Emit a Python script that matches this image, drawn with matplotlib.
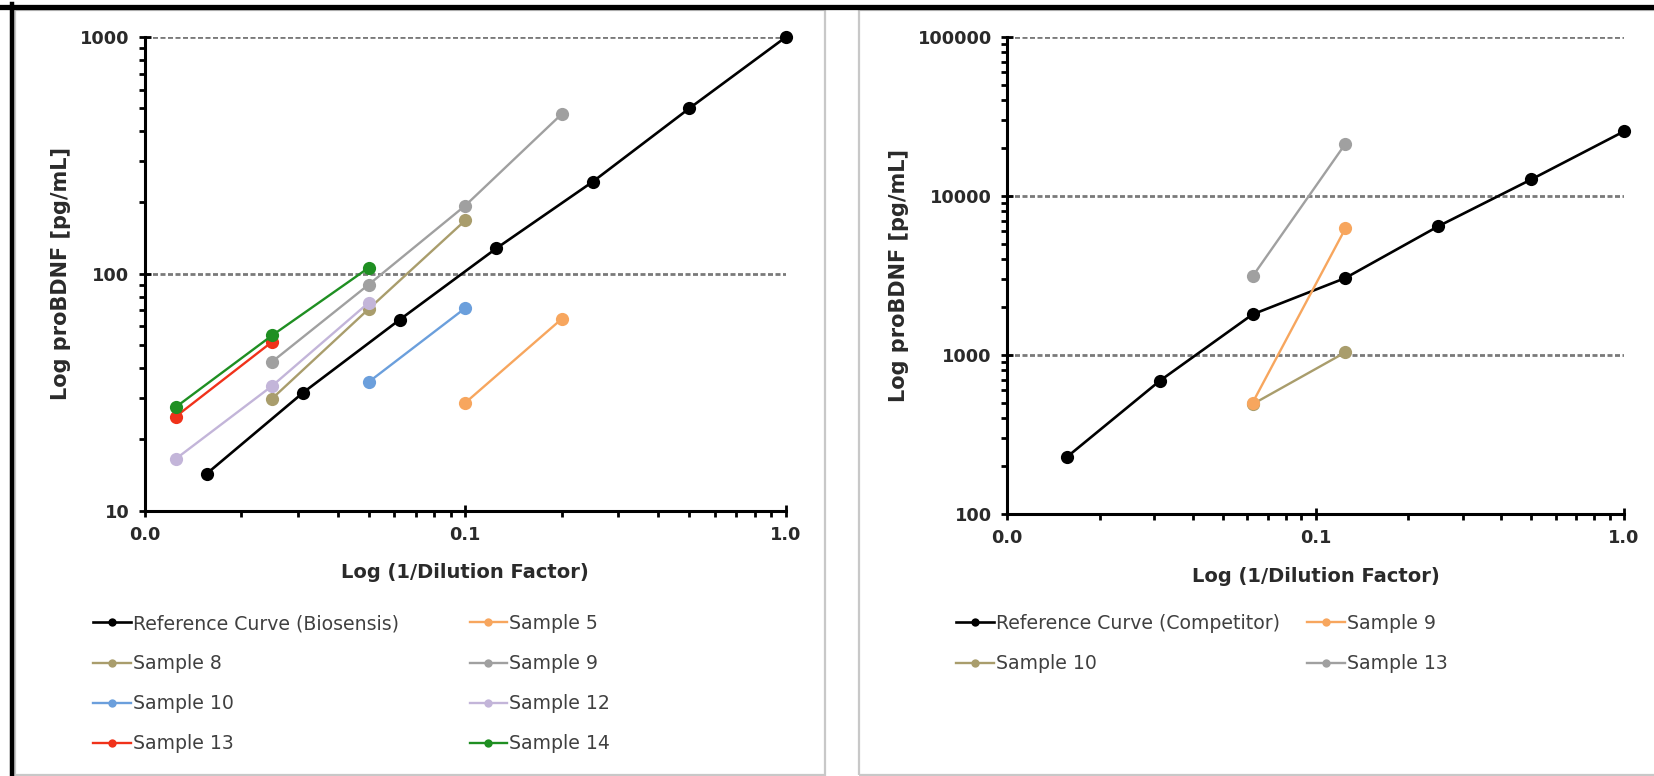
import matplotlib
matplotlib.use("Agg")
import matplotlib.pyplot as plt
from matplotlib.patches import Rectangle
from matplotlib.lines import Line2D
from matplotlib.ticker import FixedLocator, FixedFormatter, LogLocator, NullFormatter

W, H = 1654, 776

# ---- data: left panel (Biosensis) ----
ref_bio_x = [1/64, 1/32, 1/16, 1/8, 1/4, 1/2, 1]
ref_bio_y = [14.3, 31.5, 64, 128, 245, 500, 1000]

s5_x, s5_y = [0.1, 0.2], [28.5, 64.5]
s8_x, s8_y = [0.025, 0.05, 0.1], [29.7, 71, 168]
s9_x, s9_y = [0.025, 0.05, 0.1, 0.2], [42.5, 90, 194, 473]
s10_x, s10_y = [0.05, 0.1], [34.9, 71.6]
s12_x, s12_y = [0.0125, 0.025, 0.05], [16.5, 33.6, 75.5]
s13_x, s13_y = [0.0125, 0.025], [24.9, 51.6]
s14_x, s14_y = [0.0125, 0.025, 0.05], [27.3, 54.9, 106]

# ---- data: right panel (Competitor) ----
ref_comp_x = [1/64, 1/32, 1/16, 1/8, 1/4, 1/2, 1]
ref_comp_y = [228, 687, 1800, 3050, 6450, 12700, 25500]

c9_x, c9_y = [1/16, 1/8], [500, 6250]
c10_x, c10_y = [1/16, 1/8], [490, 1040]
c13_x, c13_y = [1/16, 1/8], [3120, 21300]

x_ticks = [0.01, 0.1, 1.0]
x_labels = ["0.0", "0.1", "1.0"]

C_ORANGE = "#F7A65E"
C_KHAKI = "#A99D6C"
C_GREY = "#A0A0A0"
C_BLUE = "#6B9FDC"
C_LILAC = "#C3B5D9"
C_RED = "#F0321A"
C_GREEN = "#1F8F22"

FONT = "DejaVu Sans"
TXT = "#2a2a2a"
LEG_TXT = "#404040"


def px_rect(x0, y0, x1, y1):
    return [x0 / W, 1 - y1 / H, (x1 - x0) / W, (y1 - y0) / H]


def style_axes(ax, y_ticks, y_labels, grid_vals):
    ax.set_xscale("log")
    ax.set_yscale("log")
    for s in ["top", "right"]:
        ax.spines[s].set_visible(False)
    for s in ["left", "bottom"]:
        ax.spines[s].set_linewidth(2.2)
        ax.spines[s].set_color("black")
    ax.xaxis.set_major_locator(FixedLocator(x_ticks))
    ax.xaxis.set_major_formatter(FixedFormatter(x_labels))
    ax.xaxis.set_minor_locator(LogLocator(base=10, subs=range(2, 10)))
    ax.xaxis.set_minor_formatter(NullFormatter())
    ax.yaxis.set_major_locator(FixedLocator(y_ticks))
    ax.yaxis.set_major_formatter(FixedFormatter(y_labels))
    ax.yaxis.set_minor_locator(LogLocator(base=10, subs=range(2, 10)))
    ax.yaxis.set_minor_formatter(NullFormatter())
    ax.tick_params(which="major", direction="inout", length=8, width=2, pad=7,
                   labelsize=12.8, labelcolor=TXT)
    ax.tick_params(which="minor", direction="out", length=4, width=2)
    for lab in ax.get_xticklabels() + ax.get_yticklabels():
        lab.set_fontweight("bold")
        lab.set_family(FONT)
    for g in grid_vals:
        ax.axhline(g, color="#7a7a7a", lw=2.0, ls=(0, (1.8, 0.9)), zorder=1)
    ax.set_xlabel("Log (1/Dilution Factor)", fontsize=14, fontweight="bold",
                  family=FONT, color=TXT, labelpad=14)
    ax.set_ylabel("Log proBDNF [pg/mL]", fontsize=15, fontweight="bold",
                  family=FONT, color=TXT, labelpad=6)


def series(ax, x, y, color, label, lw=1.7, ms=9.5):
    ax.plot(x, y, color=color, lw=lw, marker="o", ms=ms,
            markeredgewidth=0, label=label, clip_on=False, zorder=3)
    return Line2D([], [], color=color, lw=lw, marker="o", ms=6, markeredgewidth=0)


fig = plt.figure(figsize=(W / 100, H / 100), dpi=100)

# panel frames and outer border
fig.add_artist(Rectangle((15 / W, 1 - 775 / H), (825 - 15) / W, (775 - 10) / H,
                         transform=fig.transFigure, fill=False, ec="#c8c8c8", lw=1.6))
fig.add_artist(Rectangle((859 / W, 1 - 775 / H), (1700 - 859) / W, (775 - 10) / H,
                         transform=fig.transFigure, fill=False, ec="#c8c8c8", lw=1.6))
fig.add_artist(Line2D([0, 1], [1 - 6.5 / H, 1 - 6.5 / H], transform=fig.transFigure,
                      color="black", lw=3.8))
fig.add_artist(Line2D([12 / W, 12 / W], [0, 1 - 4 / H], transform=fig.transFigure,
                      color="black", lw=3.2))

# ---- left panel ----
ax1 = fig.add_axes(px_rect(144.5, 37, 786, 510.5))
ax1.set_xlim(0.01, 1)
ax1.set_ylim(10, 1000)
style_axes(ax1, [10, 100, 1000], ["10", "100", "1000"], [100, 1000])

h_ref = series(ax1, ref_bio_x, ref_bio_y, "black", "Reference Curve (Biosensis)", lw=1.9)
h5 = series(ax1, s5_x, s5_y, C_ORANGE, "Sample 5")
h8 = series(ax1, s8_x, s8_y, C_KHAKI, "Sample 8")
h9 = series(ax1, s9_x, s9_y, C_GREY, "Sample 9")
h10 = series(ax1, s10_x, s10_y, C_BLUE, "Sample 10")
h12 = series(ax1, s12_x, s12_y, C_LILAC, "Sample 12")
h13 = series(ax1, s13_x, s13_y, C_RED, "Sample 13")
h14 = series(ax1, s14_x, s14_y, C_GREEN, "Sample 14")

leg1 = ax1.legend([h_ref, h8, h10, h13, h5, h9, h12, h14],
                  ["Reference Curve (Biosensis)", "Sample 8", "Sample 10", "Sample 13",
                   "Sample 5", "Sample 9", "Sample 12", "Sample 14"],
                  ncol=2, loc="upper left", bbox_to_anchor=(93 / W, 1 - 614 / H),
                  bbox_transform=fig.transFigure, frameon=False, borderpad=0,
                  borderaxespad=0, handlelength=2.0, handletextpad=0.1,
                  columnspacing=3.75, labelspacing=1.12,
                  prop={"family": FONT, "size": 13.6})
for t in leg1.get_texts():
    t.set_color(LEG_TXT)

# ---- right panel ----
ax2 = fig.add_axes(px_rect(1007, 37, 1624, 514))
ax2.set_xlim(0.01, 1)
ax2.set_ylim(100, 100000)
style_axes(ax2, [100, 1000, 10000, 100000], ["100", "1000", "10000", "100000"],
           [1000, 10000, 100000])

g_ref = series(ax2, ref_comp_x, ref_comp_y, "black", "Reference Curve (Competitor)", lw=1.9)
g10 = series(ax2, c10_x, c10_y, C_KHAKI, "Sample 10")
g9 = series(ax2, c9_x, c9_y, C_ORANGE, "Sample 9")
g13 = series(ax2, c13_x, c13_y, C_GREY, "Sample 13")

leg2 = ax2.legend([g_ref, g10, g9, g13],
                  ["Reference Curve (Competitor)", "Sample 10", "Sample 9", "Sample 13"],
                  ncol=2, loc="upper left", bbox_to_anchor=(956 / W, 1 - 614 / H),
                  bbox_transform=fig.transFigure, frameon=False, borderpad=0,
                  borderaxespad=0, handlelength=2.0, handletextpad=0.1,
                  columnspacing=1.45, labelspacing=1.12,
                  prop={"family": FONT, "size": 13.6})
for t in leg2.get_texts():
    t.set_color(LEG_TXT)

fig.savefig("out.png", dpi=100)
